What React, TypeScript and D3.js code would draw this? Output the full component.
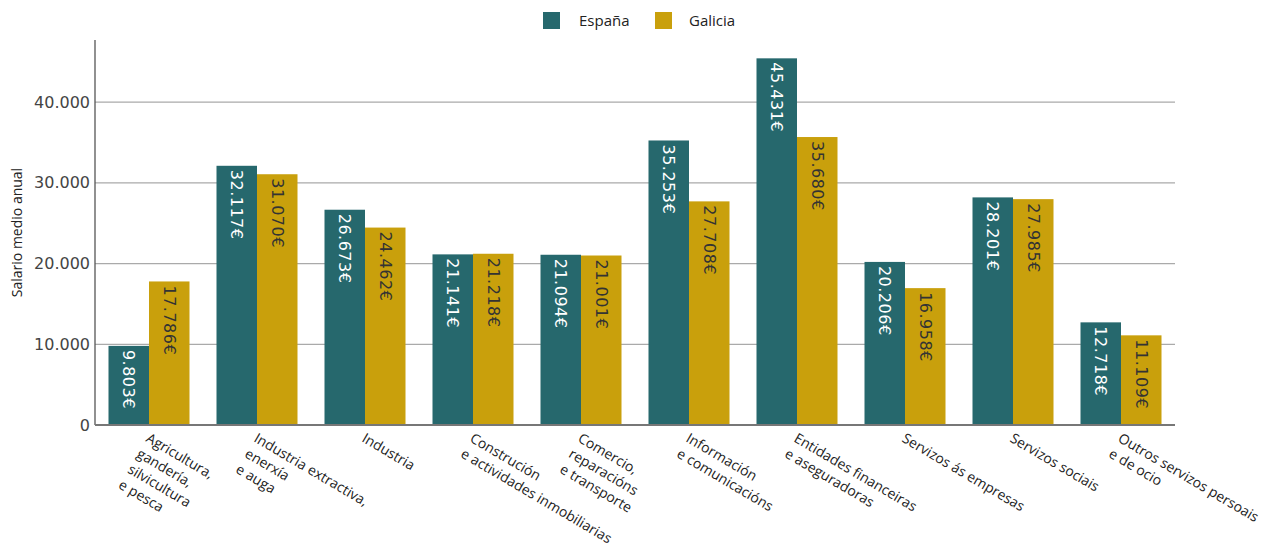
import React from "react";
import * as d3 from "d3";

const categories: string[][] = [
  ["Agricultura,", "gandería,", "silvicultura", "e pesca"],
  ["Industria extractiva,", "enerxía", "e auga"],
  ["Industria"],
  ["Construción", "e actividades inmobiliarias"],
  ["Comercio,", "reparacións", "e transporte"],
  ["Información", "e comunicacións"],
  ["Entidades financeiras", "e aseguradoras"],
  ["Servizos ás empresas"],
  ["Servizos sociais"],
  ["Outros servizos persoais", "e de ocio"],
];
const espana = [9803, 32117, 26673, 21141, 21094, 35253, 45431, 20206, 28201, 12718];
const galicia = [17786, 31070, 24462, 21218, 21001, 27708, 35680, 16958, 27985, 11109];
const seriesNames = ["España", "Galicia"];
const yTicks = [0, 10000, 20000, 30000, 40000];

const W = 1265, H = 547;
const M = { left: 95, right: 90, top: 40, bottom: 122 };
const colors = ["#26686d", "#c9a00c"];
const labelColors = ["#ffffff", "#333333"];

const fmt = (v: number) => d3.format(",")(v).replace(/,/g, ".");

export default function App() {
  const x0 = d3
    .scaleBand<number>()
    .domain(categories.map((_, i) => i))
    .range([M.left, W - M.right])
    .paddingInner(0.25)
    .paddingOuter(0.125);
  const x1 = d3.scaleBand<number>().domain([0, 1]).range([0, x0.bandwidth()]);
  const maxV = d3.max([...espana, ...galicia]) as number;
  const y = d3.scaleLinear().domain([0, maxV * 1.05]).range([H - M.bottom, M.top]);
  const series = [espana, galicia];
  const angle = 30.5;

  return (
    <svg
      width={W}
      height={H}
      style={{ position: "absolute", left: 0, top: 0, background: "#fff" }}
    >
      {/* legend */}
      <g>
        <rect x={543} y={12} width={17} height={17} fill={colors[0]} />
        <text x={579} y={26} fontFamily="Open Sans" fontSize={15} fill="#222">
          {seriesNames[0]}
        </text>
        <rect x={655} y={12} width={17} height={17} fill={colors[1]} />
        <text x={689} y={26} fontFamily="Open Sans" fontSize={15} fill="#222">
          {seriesNames[1]}
        </text>
      </g>
      {/* grid */}
      {yTicks.slice(1).map((t) => (
        <line
          key={t}
          x1={M.left}
          x2={W - M.right}
          y1={y(t)}
          y2={y(t)}
          stroke="#aaa"
          strokeWidth={1.3}
        />
      ))}
      {/* y ticks */}
      {yTicks.map((t) => (
        <text
          key={t}
          x={M.left - 5}
          y={y(t)}
          dy="0.35em"
          textAnchor="end"
          fontFamily="DejaVu Sans"
          fontSize={16}
          fill="#444"
        >
          {fmt(t)}
        </text>
      ))}
      <text
        transform={`translate(22,${(y(0) + M.top) / 2}) rotate(-90)`}
        textAnchor="middle"
        fontFamily="Open Sans"
        fontSize={14}
        fill="#222"
      >
        Salario medio anual
      </text>
      {/* bars */}
      {series.map((s, si) =>
        s.map((v, i) => {
          const bx = (x0(i) as number) + (x1(si) as number);
          const by = y(v);
          return (
            <g key={`${si}-${i}`}>
              <rect x={bx} y={by} width={x1.bandwidth()} height={y(0) - by} fill={colors[si]} />
              <text
                transform={`translate(${bx + x1.bandwidth() / 2},${by + 4}) rotate(90)`}
                dy="0.35em"
                fontFamily="DejaVu Sans"
                fontSize={16}
                letterSpacing={0.5}
                fill={labelColors[si]}
              >
                {fmt(v)}€
              </text>
            </g>
          );
        })
      )}
      {/* axes */}
      <line x1={M.left} x2={M.left} y1={M.top} y2={y(0)} stroke="#555" strokeWidth={1.3} />
      <line x1={M.left} x2={W - M.right} y1={y(0)} y2={y(0)} stroke="#777" strokeWidth={2} />
      {/* x labels */}
      {categories.map((lines, i) => {
        const cx = (x0(i) as number) + x0.bandwidth() / 2;
        return (
          <text
            key={i}
            transform={`translate(${cx - 4},${y(0) + 16}) rotate(${angle})`}
            fontFamily="Open Sans"
            fontSize={14}
            fill="#222"
          >
            {lines.map((l, li) => (
              <tspan key={li} x={0} y={li * 18}>
                {l}
              </tspan>
            ))}
          </text>
        );
      })}
    </svg>
  );
}
